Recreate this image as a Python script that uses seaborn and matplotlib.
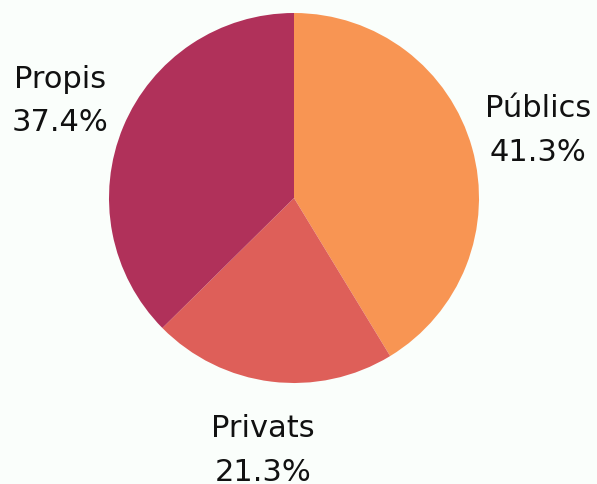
import seaborn as sns
import matplotlib.pyplot as plt

sns.set_theme(style="white", rc={"axes.facecolor": "#fafefb", "figure.facecolor": "#fafefb"})
plt.rcParams['font.family'] = ['DejaVu Sans']

# data
categories = ["Públics", "Privats", "Propis"]
shares = [41.3, 21.3, 37.4]
colors = ["#f89553", "#de5f59", "#b0315a"]

labels = [f"{c}\n{v}%" for c, v in zip(categories, shares)]

fig = plt.figure(figsize=(5.97, 4.85), dpi=100)
ax = fig.add_axes([0, 0, 1, 1])

wedges, texts = ax.pie(shares, labels=labels, colors=colors, startangle=90,
                       counterclock=False, labeldistance=1.37,
                       wedgeprops={"linewidth": 0})
for t in texts:
    t.set_ha("center")
    t.set_va("center")
    t.set_fontsize(22)
    t.set_color("#111111")
    t.set_linespacing(1.62)

# radius 1 = 185 px, center at (294, 199) px from top-left
r = 185
ax.set_xlim(-294 / r, (597 - 294) / r)
ax.set_ylim(-(485 - 199) / r, 199 / r)
ax.axis("off")

fig.savefig("out.png", dpi=100, facecolor=fig.get_facecolor())
